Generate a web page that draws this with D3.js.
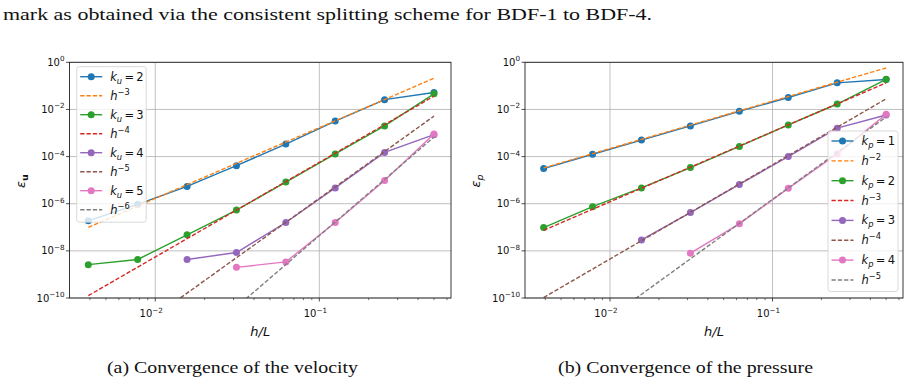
<!DOCTYPE html>
<html>
<head>
<meta charset="utf-8">
<script src="https://cdn.jsdelivr.net/npm/d3@7"></script>
<style>
  body { margin: 0; background: #fff; }
  svg { display: block; }
</style>
</head>
<body>
<div id="chart"></div>
<script>
// mesh sizes h/L
const hValues = [0.00390625, 0.0078125, 0.015625, 0.03125, 0.0625, 0.125, 0.25, 0.5];

// velocity errors
const velK2 = [1.9e-7, 9.4e-7, 5.4e-6, 4.1e-5, 3.4e-4, 3.2e-3, 2.6e-2, 5.2e-2];
const velK3 = [2.6e-9, 4.3e-9, 4.8e-8, 5.4e-7, 8.3e-6, 1.3e-4, 2.0e-3, 4.6e-2];
const velK4 = [null, null, 4.3e-9, 8.5e-9, 1.6e-7, 4.7e-6, 1.5e-4, 8.5e-4];
const velK5 = [null, null, null, 2.0e-9, 3.4e-9, 1.6e-7, 9.7e-6, 9.1e-4];
// reference slopes: value at first h and at last h
const velRef3 = [1.0e-7, 0.211];
const velRef4 = [1.26e-10, 0.0366];
const velRef5 = [1.6e-13, 5.2e-3];
const velRef6 = [1.6e-16, 6.8e-4];

// pressure errors
const preK1 = [3.1e-5, 1.26e-4, 5.0e-4, 2.0e-3, 8.3e-3, 3.2e-2, 0.134, 0.185];
const preK2 = [9.7e-8, 7.5e-7, 4.7e-6, 3.4e-5, 2.7e-4, 2.2e-3, 1.7e-2, 0.19];
const preK3 = [null, null, 2.9e-8, 4.2e-7, 6.6e-6, 1.0e-4, 1.6e-3, 5.8e-3];
const preK4 = [null, null, null, 8e-9, 1.4e-7, 4.5e-6, 1.3e-4, 6.3e-3];
const preRef2 = [3.3e-5, 0.575];
const preRef3 = [7.4e-8, 0.135];
const preRef4 = [1.05e-10, 0.0282];
const preRef5 = [1.4e-13, 4.8e-3];

const yTickExp = [0, -2, -4, -6, -8, -10];
const xTickExp = [-2, -1];

const colors = ['#1f77b4', '#ff7f0e', '#2ca02c', '#d62728', '#9467bd', '#8c564b', '#e377c2', '#7f7f7f'];

const svg = d3.select('#chart').append('svg')
  .attr('width', 911)
  .attr('height', 383);

svg.append('rect').attr('width', 911).attr('height', 383).attr('fill', '#fff');

svg.append('text')
  .attr('x', 3).attr('y', 20)
  .attr('font-family', 'Liberation Serif, DejaVu Serif, serif')
  .attr('font-size', 17.5)
  .attr('textLength', 649)
  .attr('lengthAdjust', 'spacingAndGlyphs')
  .attr('fill', '#111')
  .text('mark as obtained via the consistent splitting scheme for BDF-1 to BDF-4.');

const drawPanel = (p) => {
  const x = d3.scaleLog().domain([0.0030, 0.635]).range([p.left, p.right]);
  const y = d3.scaleLog().domain([1e-10, 1]).range([298, 62.3]);

  const g = svg.append('g');
  const clipId = 'clip' + p.id;
  g.append('clipPath').attr('id', clipId)
    .append('rect')
    .attr('x', p.left).attr('y', 62.3)
    .attr('width', p.right - p.left).attr('height', 298 - 62.3);

  // grid
  g.selectAll('.gx').data(xTickExp).join('line')
    .attr('x1', d => x(Math.pow(10, d))).attr('x2', d => x(Math.pow(10, d)))
    .attr('y1', 62.3).attr('y2', 298)
    .attr('stroke', '#b0b0b0').attr('stroke-width', 0.8);
  g.selectAll('.gy').data(yTickExp).join('line')
    .attr('x1', p.left).attr('x2', p.right)
    .attr('y1', d => y(Math.pow(10, d))).attr('y2', d => y(Math.pow(10, d)))
    .attr('stroke', '#b0b0b0').attr('stroke-width', 0.8);

  // series, in plotting order
  const plot = g.append('g').attr('clip-path', `url(#${clipId})`);
  const line = d3.line()
    .defined(d => d[1] != null)
    .x(d => x(d[0]))
    .y(d => y(d[1]));

  p.series.forEach((s, i) => {
    const color = colors[i];
    if (s.ref) {
      const pts = [[hValues[0], s.values[0]], [hValues[hValues.length - 1], s.values[1]]];
      plot.append('path')
        .datum(pts)
        .attr('fill', 'none')
        .attr('stroke', color)
        .attr('stroke-width', 1.4)
        .attr('stroke-dasharray', '4.3,2')
        .attr('d', line);
    } else {
      const pts = hValues.map((h, j) => [h, s.values[j]]);
      plot.append('path')
        .datum(pts)
        .attr('fill', 'none')
        .attr('stroke', color)
        .attr('stroke-width', 1.4)
        .attr('d', line);
      plot.selectAll(null)
        .data(pts.filter(d => d[1] != null))
        .join('circle')
        .attr('cx', d => x(d[0]))
        .attr('cy', d => y(d[1]))
        .attr('r', 3.5)
        .attr('fill', color);
    }
  });

  // spines
  g.append('rect')
    .attr('x', p.left).attr('y', 62.3)
    .attr('width', p.right - p.left).attr('height', 298 - 62.3)
    .attr('fill', 'none').attr('stroke', '#222').attr('stroke-width', 0.9);

  // x ticks
  const minor = [];
  [-3, -2, -1].forEach(e => {
    for (let m = 2; m <= 9; m++) {
      const v = m * Math.pow(10, e);
      if (v > x.domain()[0] && v < x.domain()[1]) minor.push(v);
    }
  });
  g.selectAll(null).data(minor).join('line')
    .attr('x1', d => x(d)).attr('x2', d => x(d))
    .attr('y1', 298).attr('y2', 300.2)
    .attr('stroke', '#222').attr('stroke-width', 0.6);
  g.selectAll(null).data(xTickExp).join('line')
    .attr('x1', d => x(Math.pow(10, d))).attr('x2', d => x(Math.pow(10, d)))
    .attr('y1', 298).attr('y2', 301.5)
    .attr('stroke', '#222').attr('stroke-width', 0.8);
  const xl = g.selectAll(null).data(xTickExp).join('text')
    .attr('x', d => x(Math.pow(10, d)) - 4)
    .attr('y', 317)
    .attr('text-anchor', 'middle')
    .attr('font-family', 'DejaVu Sans, sans-serif')
    .attr('font-size', 10)
    .attr('fill', '#111');
  xl.append('tspan').text('10');
  xl.append('tspan').attr('dy', -4.5).attr('font-size', 7.2).text(d => '\u2212' + (-d));

  // y ticks
  g.selectAll(null).data(yTickExp).join('line')
    .attr('x1', p.left - 3.5).attr('x2', p.left)
    .attr('y1', d => y(Math.pow(10, d))).attr('y2', d => y(Math.pow(10, d)))
    .attr('stroke', '#222').attr('stroke-width', 0.8);
  const yl = g.selectAll(null).data(yTickExp).join('text')
    .attr('x', p.left - 5)
    .attr('y', d => y(Math.pow(10, d)) + 3.5)
    .attr('text-anchor', 'end')
    .attr('font-family', 'DejaVu Sans, sans-serif')
    .attr('font-size', 10)
    .attr('fill', '#111');
  yl.append('tspan').text('10');
  yl.append('tspan').attr('dy', -4.5).attr('font-size', 7.2).text(d => d === 0 ? '0' : '\u2212' + (-d));

  // axis labels
  g.append('text')
    .attr('x', (p.left + p.right) / 2).attr('y', 336)
    .attr('text-anchor', 'middle')
    .attr('font-family', 'DejaVu Sans, sans-serif')
    .attr('font-style', 'italic')
    .attr('font-size', 13)
    .attr('fill', '#111')
    .text('h/L');

  const yLab = g.append('text')
    .attr('transform', `translate(${p.left - 45},181) rotate(-90)`)
    .attr('text-anchor', 'middle')
    .attr('font-family', 'DejaVu Sans, sans-serif')
    .attr('font-size', 13)
    .attr('fill', '#111');
  yLab.append('tspan').attr('font-style', 'italic').text('\u03b5');
  yLab.append('tspan').attr('dy', 3).attr('font-size', 9.5)
    .attr('font-style', p.yBold ? 'normal' : 'italic')
    .attr('font-weight', p.yBold ? 'bold' : 'normal')
    .text(p.ySub);

  // legend
  const lg = g.append('g');
  lg.append('rect')
    .attr('x', p.legend.x).attr('y', p.legend.y)
    .attr('width', p.legend.w).attr('height', p.legend.h)
    .attr('rx', 2.5)
    .attr('fill', '#fff').attr('fill-opacity', 0.8)
    .attr('stroke', '#d0d0d0').attr('stroke-width', 0.8);

  p.series.forEach((s, i) => {
    const cy = p.legend.y + p.legend.first + i * p.legend.step;
    const lx = p.legend.x + 3.5;
    lg.append('line')
      .attr('x1', lx).attr('x2', lx + 22)
      .attr('y1', cy).attr('y2', cy)
      .attr('stroke', colors[i]).attr('stroke-width', 1.4)
      .attr('stroke-dasharray', s.ref ? '4.3,2' : null);
    if (!s.ref) {
      lg.append('circle').attr('cx', lx + 11).attr('cy', cy).attr('r', 3.5).attr('fill', colors[i]);
    }
    const t = lg.append('text')
      .attr('x', lx + 30).attr('y', cy + 4)
      .attr('font-family', 'DejaVu Sans, sans-serif')
      .attr('font-size', 11.5)
      .attr('fill', '#111');
    if (s.ref) {
      t.append('tspan').attr('font-style', 'italic').text('h');
      t.append('tspan').attr('dy', -5).attr('font-size', 8.3).text(s.label);
    } else {
      t.append('tspan').attr('font-style', 'italic').text('k');
      t.append('tspan').attr('dy', 2.8).attr('font-size', 8.3).attr('font-style', 'italic').text(p.ySub);
      t.append('tspan').attr('dy', -2.8).text('\u2009=\u2009' + s.label);
    }
  });

  svg.append('text')
    .attr('x', p.capX).attr('y', 373)
    .attr('font-family', 'Liberation Serif, DejaVu Serif, serif')
    .attr('font-size', 17.5)
    .attr('textLength', p.capW)
    .attr('lengthAdjust', 'spacingAndGlyphs')
    .attr('fill', '#111')
    .text(p.caption);
};

drawPanel({
  id: 'a', left: 69.5, right: 451, ySub: 'u', yBold: true,
  series: [
    { values: velK2, label: '2' },
    { values: velRef3, ref: true, label: '\u22123' },
    { values: velK3, label: '3' },
    { values: velRef4, ref: true, label: '\u22124' },
    { values: velK4, label: '4' },
    { values: velRef5, ref: true, label: '\u22125' },
    { values: velK5, label: '5' },
    { values: velRef6, ref: true, label: '\u22126' }
  ],
  legend: { x: 76.7, y: 66.7, w: 69.5, h: 155.5, first: 10, step: 19 },
  caption: '(a) Convergence of the velocity', capX: 107, capW: 251
});

drawPanel({
  id: 'b', left: 525, right: 903, ySub: 'p', yBold: false,
  series: [
    { values: preK1, label: '1' },
    { values: preRef2, ref: true, label: '\u22122' },
    { values: preK2, label: '2' },
    { values: preRef3, ref: true, label: '\u22123' },
    { values: preK3, label: '3' },
    { values: preRef4, ref: true, label: '\u22124' },
    { values: preK4, label: '4' },
    { values: preRef5, ref: true, label: '\u22125' }
  ],
  legend: { x: 828, y: 131, w: 70, h: 160.5, first: 10, step: 19.85 },
  caption: '(b) Convergence of the pressure', capX: 558, capW: 255
});
</script>
</body>
</html>
